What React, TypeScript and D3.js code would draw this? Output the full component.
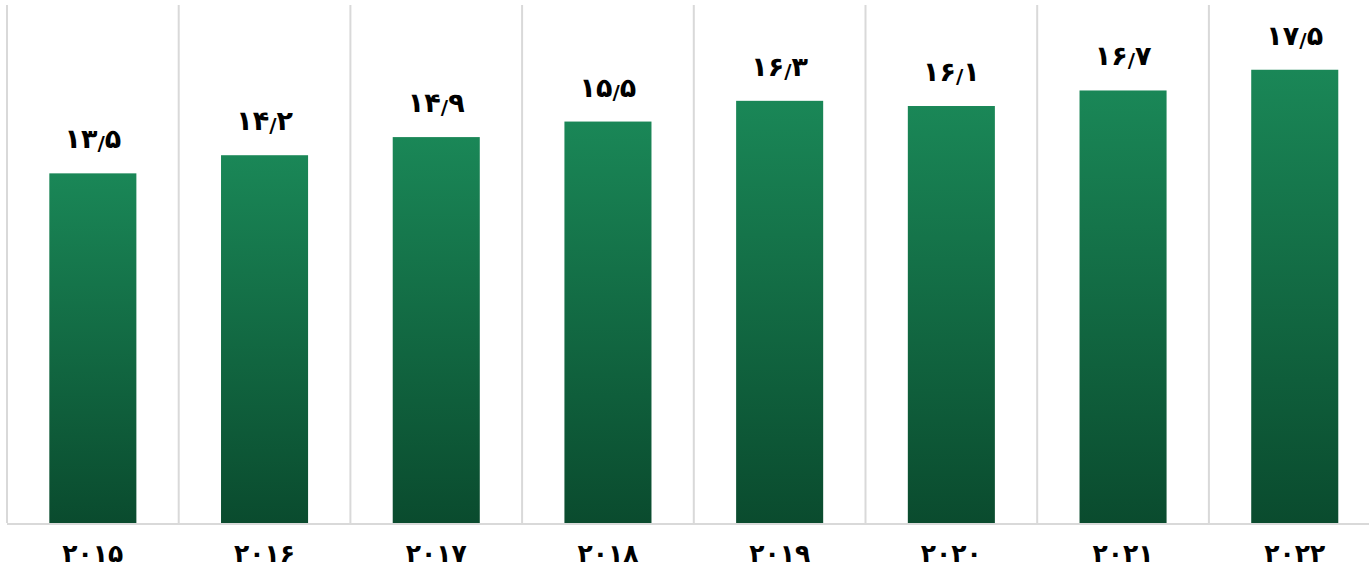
import React from "react";
import * as d3 from "d3";

const years = [2015, 2016, 2017, 2018, 2019, 2020, 2021, 2022];
const values = [13.5, 14.2, 14.9, 15.5, 16.3, 16.1, 16.7, 17.5];
const yDomain = [0, 20];

const W = 1369;
const H = 573;
const M = { left: 7, top: 5, bottom: 50 };
const STEP = 171.7;

const fa = "۰۱۲۳۴۵۶۷۸۹";
const toFaDigits = (s: string) => s.replace(/[0-9]/g, (d) => fa[+d]);

export default function App() {
  const x = d3
    .scaleBand<string>()
    .domain(years.map(String))
    .range([M.left, M.left + STEP * years.length])
    .padding(0);
  const y = d3.scaleLinear().domain(yDomain).range([H - M.bottom, M.top]);
  const bw = x.bandwidth() * 0.507;
  const font = "'DejaVu Sans', sans-serif";

  return (
    <div style={{ position: "absolute", left: 0, top: 0 }}>
      <svg width={W} height={H} style={{ display: "block", background: "#fff" }}>
        <defs>
          <linearGradient id="barGrad" x1="0" y1="0" x2="0" y2="1">
            <stop offset="0%" stopColor="#1A8757" />
            <stop offset="100%" stopColor="#0A4B2E" />
          </linearGradient>
        </defs>
        {years.map((yr) => (
          <line
            key={"g" + yr}
            x1={x(String(yr))!}
            x2={x(String(yr))!}
            y1={y(yDomain[1])}
            y2={y(0)}
            stroke="#d9d9d9"
            strokeWidth={2}
          />
        ))}
        {years.map((yr, i) => {
          const cx = x(String(yr))! + x.bandwidth() / 2;
          const [ip, fp] = String(values[i]).split(".");
          return (
            <g key={yr}>
              <rect
                x={cx - bw / 2}
                y={y(values[i])}
                width={bw}
                height={y(0) - y(values[i])}
                fill="url(#barGrad)"
              />
              <text
                x={cx}
                y={y(values[i]) - 25}
                textAnchor="middle"
                fontFamily={font}
                fontWeight="bold"
                fontSize={27}
                fill="#000"
                direction="ltr"
              >
                <tspan>{toFaDigits(ip)}</tspan>
                <tspan fontSize={20} dy={2}>/</tspan>
                <tspan dy={-2}>{toFaDigits(fp)}</tspan>
              </text>
              <text
                x={cx}
                y={562}
                textAnchor="middle"
                fontFamily={font}
                fontWeight="bold"
                fontSize={25}
                fill="#000"
              >
                {toFaDigits(String(yr))}
              </text>
            </g>
          );
        })}
        <line x1={M.left} x2={W} y1={y(0) + 1} y2={y(0) + 1} stroke="#d9d9d9" strokeWidth={2} />
      </svg>
    </div>
  );
}
